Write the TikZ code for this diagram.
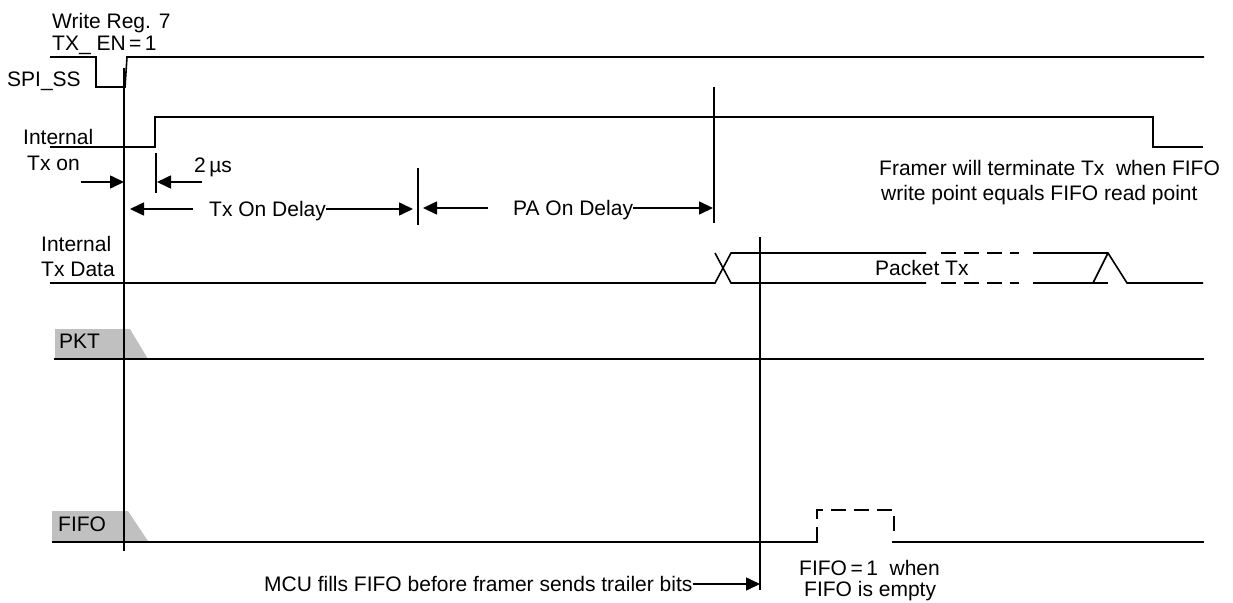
\documentclass[tikz,border=0pt]{standalone}
\usepackage{fontspec}
\setmainfont{Liberation Sans}
\usetikzlibrary{arrows.meta}
\definecolor{taggray}{HTML}{C0C0C0}
\begin{document}
\begin{tikzpicture}[x=1pt,y=-1pt,
  sig/.style={line width=1.6pt},
  arr/.style={line width=1.6pt,-{Triangle[length=14pt,width=13pt]}},
  dsh/.style={line width=2.2pt,dash pattern=on 15pt off 8pt},
  lbl/.style={inner sep=0pt,anchor=base west,font=\fontsize{21}{25}\selectfont},
  tag/.style={fill=taggray,draw=none}]
\useasboundingbox (0,0) rectangle (1233,602);

% ---- labels
\node[lbl] (wr) at (52,28.5) {Write Reg. 7};
\node[lbl] (txen) at (52,50.5) {TX\_ EN\,=\,1};
\node[lbl] (spi) at (7,86.5) {SPI\_SS};
\node[lbl] (int1) at (23,144.5) {Internal};
\node[lbl] (txon) at (27,170.5) {Tx on};
\node[lbl] (two) at (194,172.5) {2\,µs};
\node[lbl] (tod) at (209,216) {Tx On Delay};
\node[lbl] (pad) at (513,215.5) {PA On Delay};
\node[lbl] (fr1) at (879,175.5) {Framer will terminate Tx\ \ when FIFO};
\node[lbl] (fr2) at (881,200.5) {write point equals FIFO read point};
\node[lbl] (int2) at (41,251.5) {Internal};
\node[lbl] (txd) at (41,276.5) {Tx Data};
\node[lbl] (ptx) at (875,275.5) {Packet Tx};

% ---- grey tags
\fill[tag] (55,329) -- (130,329) -- (148,359) -- (55,359) -- cycle;
\fill[tag] (52,511) -- (128,511) -- (148,541) -- (52,541) -- cycle;
\node[lbl] (pkt) at (59,348.5) {PKT};
\node[lbl] (fifo) at (58,531.5) {FIFO};
\node[lbl] (f1) at (799,575.5) {FIFO\,=\,1 \ when};
\node[lbl] (f2) at (804,596.5) {FIFO is empty};
\node[lbl] (mcu) at (264,591) {MCU fills FIFO before framer sends trailer bits};

% ---- reference lines
\draw[sig] (124,68) -- (124,551);
\draw[sig] (714,87) -- (714,223);
\draw[sig] (760,237) -- (760,590);
\draw[sig] (156,153) -- (156,193);
\draw[sig] (418,168) -- (418,225);

% ---- SPI_SS
\draw[sig] (50,57) -- (96,57) -- (96,87) -- (125,87) -- (127,57) -- (1204,57);
% ---- Internal Tx on
\draw[sig] (50,147) -- (155,147) -- (155,117) -- (1153,117) -- (1153,147) -- (1203,147);
% ---- Internal Tx Data
\draw[sig] (50,283) -- (715,283) -- (731,253) -- (926,253);
\draw[sig] (715,253) -- (731,283) -- (926,283);
\draw[dsh] (941,253) -- (1019,253);
\draw[dsh] (941,283) -- (1019,283);
\draw[sig] (1033,253) -- (1108,253) -- (1127,283) -- (1203,283);
\draw[sig] (1033,283) -- (1108,283);
\draw[sig] (1093,283) -- (1108,253);
% ---- PKT
\draw[sig] (54,359) -- (1204,359);
% ---- FIFO
\draw[sig] (52,542) -- (817,542) -- (817,527);
\draw[dsh,dash phase=15pt] (817,527) -- (817,510) -- (894,510) -- (894,533);
\draw[sig] (892,542) -- (1204,542);

% ---- arrows
\coordinate (txonL) at (81,182);
\coordinate (txonT) at (124,182);
\draw[arr] (txonL) -- (txonT);
\coordinate (twoL) at (202,182);
\coordinate (twoT) at (157,182);
\draw[arr] (twoL) -- (twoT);
\coordinate (todL) at (193,209);
\coordinate (todT) at (130,209);
\draw[arr] (todL) -- (todT);
\coordinate (todR) at (413,209);
\draw[arr] (tod.east |- todR) -- (todR);
\coordinate (padL) at (488,208);
\coordinate (padT) at (423,208);
\draw[arr] (padL) -- (padT);
\coordinate (padR) at (713,208);
\draw[arr] (pad.east |- padR) -- (padR);
\coordinate (mcuT) at (760,584);
\draw[arr] (mcu.east |- mcuT) -- (mcuT);
\end{tikzpicture}
\end{document}
